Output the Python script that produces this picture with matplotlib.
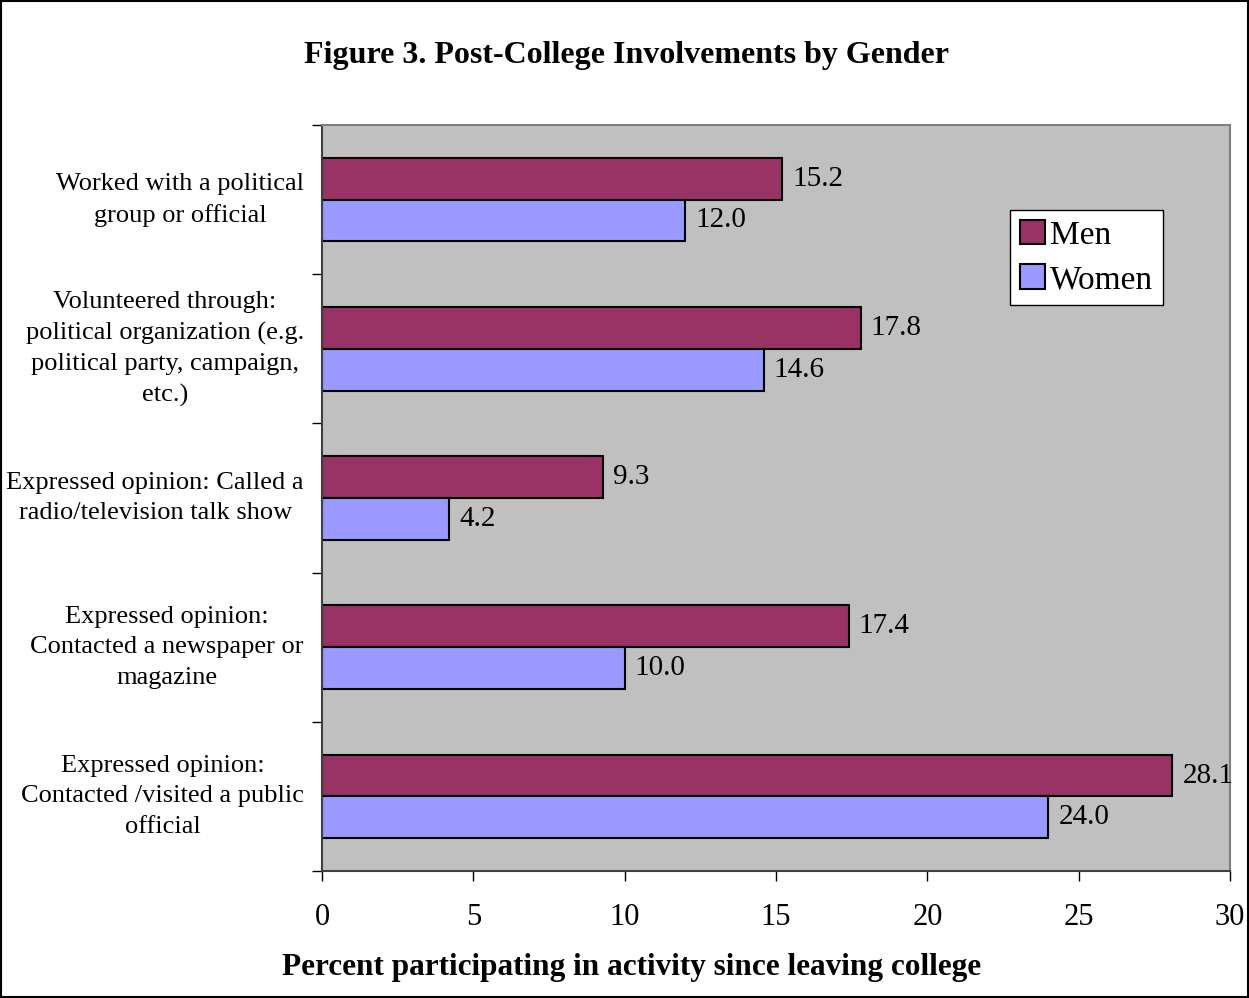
import numpy as np
import matplotlib.pyplot as plt
from matplotlib.patches import Rectangle

plt.rcParams['font.family'] = ['Liberation Serif', 'DejaVu Serif']

categories = ['Worked with a political\ngroup or official',
              'Volunteered through:\npolitical organization (e.g.\npolitical party, campaign,\netc.)',
              'Expressed opinion: Called a\nradio/television talk show',
              'Expressed opinion:\nContacted a newspaper or\nmagazine',
              'Expressed opinion:\nContacted /visited a public\nofficial']
men = [15.2, 17.8, 9.3, 17.4, 28.1]
women = [12.0, 14.6, 4.2, 10.0, 24.0]
xticks = [0, 5, 10, 15, 20, 25, 30]

men_color = '#993366'
women_color = '#9999FF'

fig = plt.figure(figsize=(12.49, 9.98), dpi=100)
ax = fig.add_axes([322/1249, 1-871/998, (1230-322)/1249, (871-125)/998])
ax.set_facecolor('#C0C0C0')

y = np.arange(len(categories))
h = 0.28
ax.barh(y - h/2, men, height=h, color=men_color, edgecolor='black', linewidth=1.5, label='Men')
ax.barh(y + h/2, women, height=h, color=women_color, edgecolor='black', linewidth=1.5, label='Women')

for yi, v in zip(y - h/2, men):
    ax.text(v + 0.33, yi, f'{v:.1f}', va='center', ha='left', fontsize=21)
for yi, v in zip(y + h/2, women):
    ax.text(v + 0.33, yi, f'{v:.1f}', va='center', ha='left', fontsize=21)

ax.set_xlim(0, 30)
ax.set_ylim(len(categories) - 0.5, -0.5)
ax.set_xticks(xticks)
ax.set_xticklabels([str(t) for t in xticks], fontsize=22)
ax.tick_params(axis='x', direction='out', length=7, width=1, pad=16)

ax.set_yticks(np.arange(len(categories) + 1) - 0.5)
ax.set_yticklabels([])
ax.tick_params(axis='y', which='major', direction='out', length=7, width=1)
ax.set_yticks(y, minor=True)
ax.set_yticklabels(categories, minor=True, fontsize=19)
ax.tick_params(axis='y', which='minor', length=0, pad=13)
for lbl in ax.get_yticklabels(minor=True):
    lbl.set_multialignment('center')
    lbl.set_linespacing(1.5)
    lbl.set_verticalalignment('center')

for s in ['top', 'right']:
    ax.spines[s].set_color('#808080')
    ax.spines[s].set_linewidth(1.5)
for s in ['left', 'bottom']:
    ax.spines[s].set_color('#404040')
    ax.spines[s].set_linewidth(1.5)

fig.text(632/1249, 1-967/998, 'Percent participating in activity since leaving college',
         ha='center', va='center', fontsize=22.5, fontweight='bold')
fig.text(627/1249, 1-55/998, 'Figure 3. Post-College Involvements by Gender',
         ha='center', va='center', fontsize=23, fontweight='bold')

leg = ax.legend(loc='upper left', bbox_to_anchor=((1010-322)/908, 1-(210-125)/746),
                fontsize=24, frameon=True, fancybox=False, edgecolor='black',
                framealpha=1, borderpad=0.3, handlelength=0.75, handleheight=0.75,
                handletextpad=0.15, labelspacing=0.4, borderaxespad=0)
leg.get_frame().set_linewidth(1)

fig.patches.append(Rectangle((0.001, 0.001), 0.998, 0.998, transform=fig.transFigure,
                             fill=False, edgecolor='black', linewidth=1.5))

fig.savefig('out.png', dpi=100)
